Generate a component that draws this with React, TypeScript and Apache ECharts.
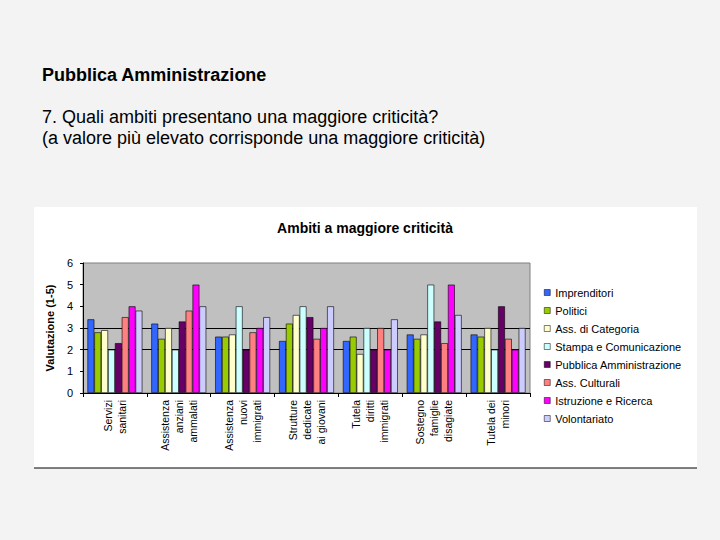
import { useEffect, useRef } from 'react'
import * as echarts from 'echarts'

const FONT = 'Liberation Sans, Arial, sans-serif'

const categories = [
  'Servizi\nsanitari',
  'Assistenza\nanziani\nammalati',
  'Assistenza\nnuovi\nimmigrati',
  'Strutture\ndedicate\nai giovani',
  'Tutela\ndiritti\nimmigrati',
  'Sostegno\nfamiglie\ndisagiate',
  'Tutela dei\nminori',
]

const groups = [
  'Imprenditori',
  'Politici',
  'Ass. di Categoria',
  'Stampa e Comunicazione',
  'Pubblica Amministrazione',
  'Ass. Culturali',
  'Istruzione e Ricerca',
  'Volontariato',
]

const colors = ['#3366ff', '#99cc00', '#ffffcc', '#ccffff', '#660066', '#ff8080', '#ff00ff', '#ccccff']

const imprenditori = [3.4, 3.2, 2.6, 2.4, 2.4, 2.7, 2.7]
const politici = [2.8, 2.5, 2.6, 3.2, 2.6, 2.5, 2.6]
const assCategoria = [2.9, 3.0, 2.7, 3.6, 1.8, 2.7, 3.0]
const stampa = [2.0, 2.0, 4.0, 4.0, 3.0, 5.0, 2.0]
const pubblicaAmm = [2.3, 3.3, 2.0, 3.5, 2.0, 3.3, 4.0]
const assCulturali = [3.5, 3.8, 2.8, 2.5, 3.0, 2.3, 2.5]
const istruzione = [4.0, 5.0, 3.0, 3.0, 2.0, 5.0, 2.0]
const volontariato = [3.8, 4.0, 3.5, 4.0, 3.4, 3.6, 3.0]

const seriesValues = [imprenditori, politici, assCategoria, stampa, pubblicaAmm, assCulturali, istruzione, volontariato]

export default function App() {
  const chartRef = useRef<HTMLDivElement>(null)

  useEffect(() => {
    if (!chartRef.current) return
    document.body.style.margin = '0'

    const chart = echarts.init(chartRef.current, undefined, { renderer: 'svg' })

    const option: echarts.EChartsOption = {
      animation: false,
      backgroundColor: '#f3f3f3',
      textStyle: { fontFamily: FONT },
      graphic: [
        {
          type: 'rect',
          z: -1,
          shape: { x: 34, y: 207, width: 663, height: 261 },
          style: { fill: '#ffffff' },
        },
        {
          type: 'line',
          shape: { x1: 34, y1: 468, x2: 697, y2: 468 },
          style: { stroke: '#000000', lineWidth: 1 },
        },
        {
          type: 'text',
          x: 42,
          y: 75,
          style: {
            text: 'Pubblica Amministrazione',
            font: `bold 18px ${FONT}`,
            fill: '#000',
            verticalAlign: 'middle',
          },
        },
        {
          type: 'text',
          x: 42,
          y: 117,
          style: {
            text: '7. Quali ambiti presentano una maggiore criticità?',
            font: `18px ${FONT}`,
            fill: '#000',
            verticalAlign: 'middle',
          },
        },
        {
          type: 'text',
          x: 42,
          y: 138,
          style: {
            text: '(a valore più elevato corrisponde una maggiore criticità)',
            font: `18px ${FONT}`,
            fill: '#000',
            verticalAlign: 'middle',
          },
        },
        {
          type: 'text',
          x: 365,
          y: 228,
          style: {
            text: 'Ambiti a maggiore criticità',
            font: `bold 14px ${FONT}`,
            fill: '#000',
            align: 'center',
            verticalAlign: 'middle',
          },
        },
      ],
      legend: {
        orient: 'vertical',
        left: 539,
        top: 282,
        itemWidth: 6,
        itemHeight: 6,
        itemGap: 7,
        icon: 'rect',
        data: groups,
        itemStyle: { borderColor: '#000', borderWidth: 0.5 },
        textStyle: { fontSize: 11, color: '#000', fontFamily: FONT },
      },
      grid: {
        left: 83,
        right: 190,
        top: 263,
        bottom: 147,
        show: true,
        backgroundColor: '#c0c0c0',
        borderColor: '#808080',
        borderWidth: 1,
      },
      xAxis: {
        type: 'category',
        data: categories,
        axisLine: { lineStyle: { color: '#000', width: 1 } },
        axisTick: { show: true, length: 4, lineStyle: { color: '#000' } },
        axisLabel: {
          rotate: 90,
          interval: 0,
          margin: 7,
          fontSize: 10.5,
          lineHeight: 14,
          color: '#000',
          fontFamily: FONT,
        },
      },
      yAxis: {
        type: 'value',
        min: 0,
        max: 6,
        interval: 1,
        name: 'Valutazione (1-5)',
        nameLocation: 'middle',
        nameGap: 27,
        nameTextStyle: { fontSize: 11, fontWeight: 'bold', color: '#000', fontFamily: FONT },
        axisLine: { show: true, lineStyle: { color: '#000', width: 1 } },
        axisTick: { show: true, length: 3, lineStyle: { color: '#000' } },
        axisLabel: { fontSize: 11, color: '#000', margin: 10, fontFamily: FONT },
        splitLine: {
          show: true,
          lineStyle: {
            color: ['transparent', 'transparent', '#000', '#000', 'transparent', 'transparent', 'transparent'],
            width: 1,
          },
        },
      },
      series: groups.map((name, i) => ({
        name,
        type: 'bar' as const,
        data: seriesValues[i],
        barGap: '0%',
        barCategoryGap: '14%',
        itemStyle: { color: colors[i], borderColor: '#000', borderWidth: 0.6 },
      })),
    }

    chart.setOption(option)

    return () => {
      chart.dispose()
    }
  }, [])

  return <div ref={chartRef} style={{ position: 'fixed', left: 0, top: 0, width: '720px', height: '540px' }} />
}
